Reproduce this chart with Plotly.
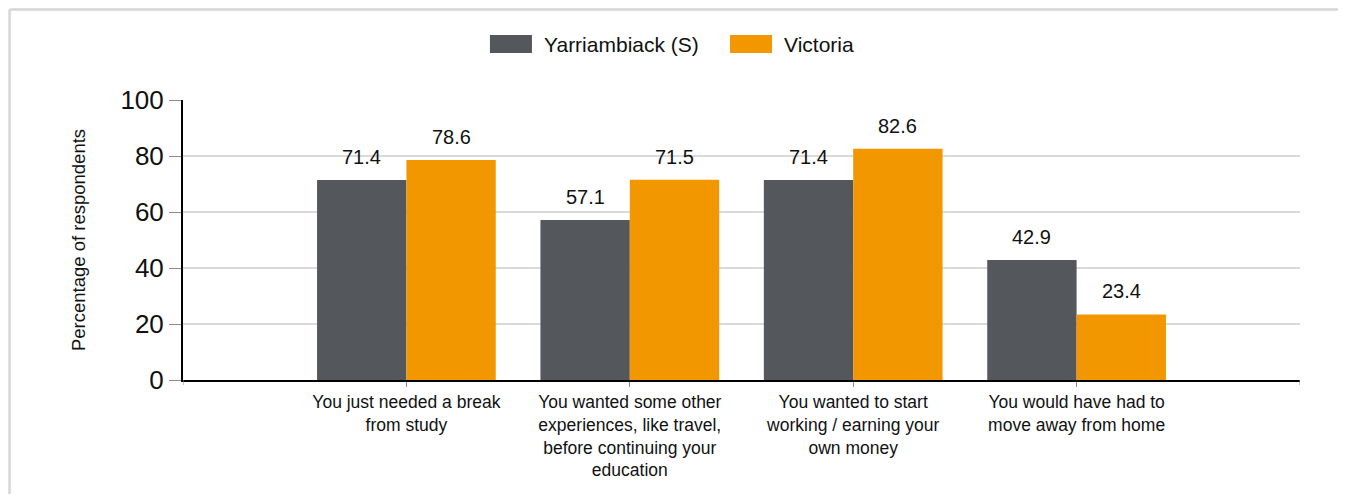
import plotly.graph_objects as go

COLORS = {
    "grey": "#54575b",
    "orange": "#f39700",
    "grid": "#dadada",
    "tick": "#8a8a8a",
    "border": "#d6d6d6",
    "text": "#111111",
}
FONT = "Liberation Sans, Arial, sans-serif"

categories = [
    "You just needed a break<br>from study",
    "You wanted some other<br>experiences, like travel,<br>before continuing your<br>education",
    "You wanted to start<br>working / earning your<br>own money",
    "You would have had to<br>move away from home",
]
series_names = ["Yarriambiack (S)", "Victoria"]
yarriambiack = [71.4, 57.1, 71.4, 42.9]
victoria = [78.6, 71.5, 82.6, 23.4]
y_ticks = [0, 20, 40, 60, 80, 100]

fig = go.Figure()
for name, vals, col in [(series_names[0], yarriambiack, COLORS["grey"]),
                        (series_names[1], victoria, COLORS["orange"])]:
    fig.add_trace(go.Bar(x=categories, y=vals, name=name, marker_color=col,
                         marker_line_width=0, showlegend=False))

# value labels above the bars
for vals, shift in [(yarriambiack, -44.7), (victoria, 44.7)]:
    for c, v in zip(categories, vals):
        fig.add_annotation(x=c, y=v, text=f"{v:.1f}", showarrow=False,
                           xshift=shift, yshift=10, yanchor="bottom",
                           font=dict(size=20, color=COLORS["text"], family=FONT))

# custom legend with wide swatches
legend_items = [(series_names[0], COLORS["grey"], 0.2748),
                (series_names[1], COLORS["orange"], 0.4897)]
for name, col, x0 in legend_items:
    fig.add_shape(type="rect", xref="paper", yref="paper",
                  x0=x0, x1=x0 + 0.0376, y0=1.168, y1=1.232,
                  fillcolor=col, line_width=0)
    fig.add_annotation(xref="paper", yref="paper", x=x0 + 0.0466, y=1.2,
                       text=name, showarrow=False, xanchor="left",
                       yanchor="middle",
                       font=dict(size=21, color=COLORS["text"], family=FONT))

# outer frame (only top and left edges are visible)
frame = dict(color=COLORS["border"], width=2.5)
fig.add_shape(type="line", xref="paper", yref="paper", x0=-0.1553, x1=1.3,
              y0=1.3232, y1=1.3232, line=frame, layer="below")
fig.add_shape(type="line", xref="paper", yref="paper", x0=-0.1553, x1=-0.1553,
              y0=-0.7, y1=1.3232, line=frame, layer="below")

# end ticks on the category axis
for xe in [-1, 4]:
    fig.add_shape(type="line", xref="x", yref="paper", x0=xe, x1=xe,
                  y0=0, y1=-0.018, line=dict(color=COLORS["tick"], width=1))

fig.update_layout(
    width=1330, height=486,
    paper_bgcolor="white", plot_bgcolor="white",
    margin=dict(l=175, r=38, t=92, b=114),
    barmode="group", bargap=0.2, bargroupgap=0,
    font=dict(family=FONT, color=COLORS["text"]),
    showlegend=False,
)
fig.update_xaxes(type="category", range=[-1, 4],
                 showline=True, linecolor="black", linewidth=2,
                 ticks="outside", ticklen=5, tickcolor=COLORS["tick"],
                 tickfont=dict(size=17.5, color=COLORS["text"]),
                 showgrid=False, zeroline=False)
fig.update_yaxes(range=[0, 100], tickvals=y_ticks,
                 showline=True, linecolor="black", linewidth=2,
                 ticks="outside", ticklen=12, tickcolor=COLORS["tick"],
                 tickfont=dict(size=26, color=COLORS["text"]),
                 showgrid=True, gridcolor=COLORS["grid"], gridwidth=2,
                 zeroline=False,
                 title=dict(text="Percentage of respondents", standoff=30,
                            font=dict(size=18.5, color=COLORS["text"])))

fig.write_html("out.html")
